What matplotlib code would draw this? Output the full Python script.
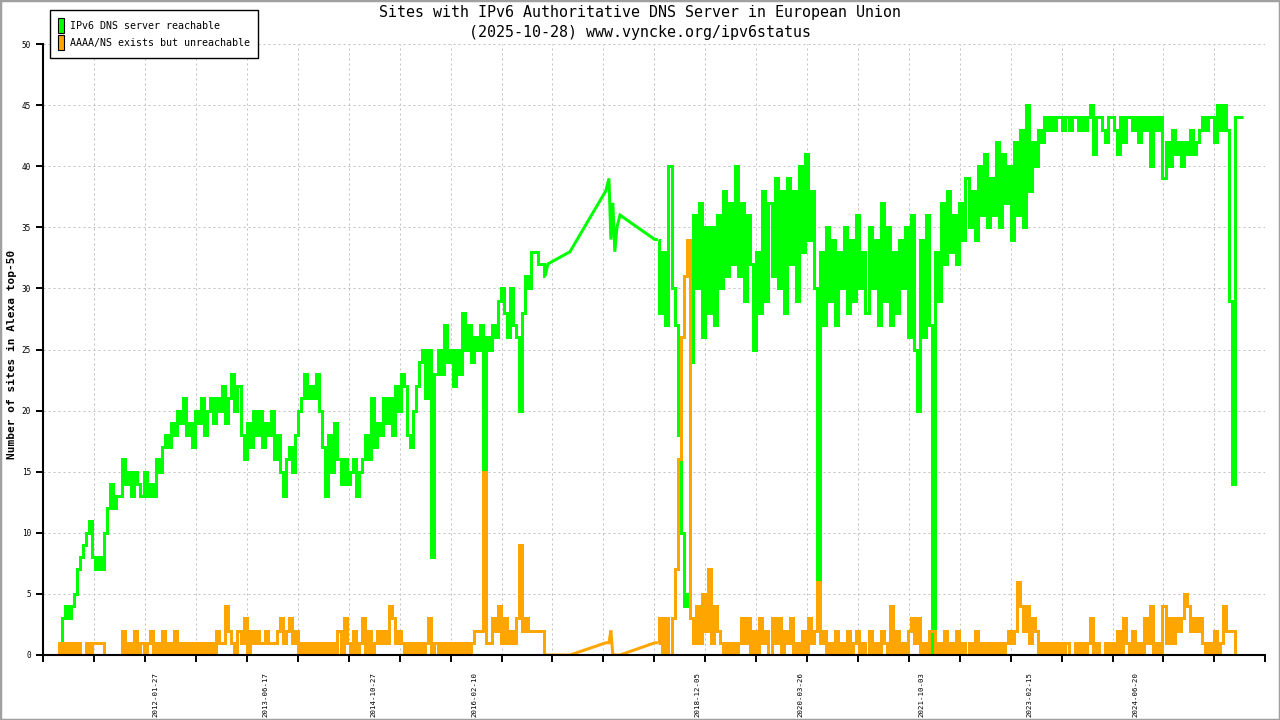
import numpy as np
import pandas as pd
import matplotlib
matplotlib.use("Agg")
import matplotlib.pyplot as plt
import matplotlib.dates as mdates
from matplotlib.patches import Patch, Rectangle

plt.rcParams['font.family'] = ['DejaVu Sans Mono']

# ---------------- data ----------------
title_line1 = "Sites with IPv6 Authoritative DNS Server in European Union"
title_line2 = "(2025-10-28) www.vyncke.org/ipv6status"
y_label = "Number of sites in Alexa top-50"
series_names = ["IPv6 DNS server reachable", "AAAA/NS exists but unreachable"]
series_colors = ["#00ff00", "#ffa500"]

# first period: samples every 14 days from 2010-09-17
seg1_start = "2010-09-17"
seg1_reachable = [
    0, 0, 0, 0, 1, 3, 4, 3, 4, 5,
    7, 8, 9, 10, 11, 8, 7, 8, 7, 10,
    12, 14, 12, 13, 13, 16, 14, 15, 13, 15,
    14, 13, 15, 13, 14, 13, 16, 15, 17, 18,
    17, 19, 18, 20, 19, 21, 18, 19, 17, 20,
    19, 21, 18, 20, 21, 19, 21, 20, 22, 19,
    21, 23, 20, 22, 18, 16, 19, 17, 20, 18,
    20, 17, 19, 18, 20, 16, 18, 15, 13, 16,
    17, 15, 18, 20, 21, 23, 21, 22, 21, 23,
    20, 17, 13, 18, 15, 19, 16, 14, 16, 14,
    15, 16, 13, 15, 16, 18, 16, 21, 17, 19,
    18, 21, 19, 21, 18, 22, 20, 23, 22, 18,
    17, 20, 22, 24, 25, 21, 25, 8, 23, 25,
    23, 27, 24, 25, 22, 25, 23, 28, 25, 27,
    24, 26, 25, 27, 15, 26, 25, 27, 26, 29,
    30, 28, 26, 30, 27, 26, 20, 28, 31, 30,
    33, 33, 32, 32, 31,
]
seg1_unreachable = [
    0, 0, 0, 0, 1, 0, 1, 0, 1, 0,
    1, 0, 0, 1, 0, 1, 1, 1, 1, 0,
    0, 0, 0, 0, 0, 2, 0, 1, 0, 2,
    0, 1, 0, 1, 2, 0, 1, 0, 2, 0,
    1, 0, 2, 0, 1, 0, 1, 0, 1, 0,
    1, 0, 1, 0, 1, 0, 2, 1, 1, 4,
    2, 1, 0, 2, 1, 3, 0, 2, 1, 2,
    1, 1, 2, 1, 1, 1, 2, 3, 1, 2,
    3, 1, 2, 0, 1, 0, 1, 0, 1, 0,
    1, 0, 1, 0, 1, 0, 2, 0, 3, 1,
    0, 2, 0, 1, 3, 0, 2, 0, 1, 2,
    1, 2, 1, 4, 3, 1, 2, 1, 0, 1,
    0, 1, 0, 1, 0, 1, 3, 0, 1, 0,
    1, 0, 1, 0, 1, 0, 1, 0, 1, 0,
    1, 2, 2, 2, 15, 1, 1, 3, 2, 4,
    1, 3, 1, 2, 1, 3, 9, 2, 3, 2,
    2, 2, 2, 2, 0,
]

# sparse period (few measurements)
gap_dates = ["2017-01-12", "2017-04-24", "2017-10-07", "2017-10-21", "2017-10-30",
             "2017-11-08", "2017-11-17", "2017-11-27", "2017-12-11", "2018-05-21"]
gap_reachable = [32, 33, 38, 39, 34, 37, 33, 35, 36, 34]
gap_unreachable = [0, 0, 1, 1, 2, 0, 0, 0, 0, 1]

# second period: samples every 14 days from 2018-06-04
seg2_start = "2018-06-04"
seg2_reachable = [
    34, 28, 33, 27, 40, 30, 27, 18, 10, 4,
    5, 24, 36, 30, 37, 26, 35, 28, 35, 27,
    36, 30, 38, 31, 37, 32, 40, 31, 37, 29,
    36, 32, 25, 33, 28, 38, 29, 37, 31, 39,
    30, 38, 28, 39, 32, 38, 29, 40, 33, 41,
    34, 38, 30, 3, 33, 27, 35, 29, 34, 27,
    33, 30, 35, 28, 34, 29, 36, 30, 33, 28,
    35, 30, 34, 27, 37, 29, 35, 27, 33, 28,
    34, 30, 35, 26, 36, 25, 20, 34, 26, 36,
    27, 0, 33, 29, 37, 32, 38, 33, 36, 32,
    37, 34, 39, 35, 38, 34, 40, 36, 41, 35,
    39, 36, 42, 35, 41, 37, 40, 34, 42, 36,
    43, 35, 45, 38, 42, 40, 43, 42, 44, 43,
    44, 43, 44, 44, 43, 44, 43, 44, 44, 43,
    44, 43, 44, 45, 41, 44, 44, 43, 42, 44,
    44, 43, 41, 44, 42, 44, 44, 43, 44, 42,
    44, 43, 44, 40, 44, 43, 44, 39, 42, 40,
    43, 41, 42, 40, 42, 41, 43, 41, 42, 43,
    44, 43, 44, 44, 42, 45, 43, 45, 43, 29,
    14, 44, 44, 44,
]
seg2_unreachable = [
    1, 3, 0, 3, 0, 3, 7, 16, 26, 31,
    34, 3, 1, 4, 1, 5, 2, 7, 1, 4,
    2, 1, 0, 1, 0, 1, 0, 1, 3, 1,
    3, 0, 2, 0, 3, 1, 2, 0, 3, 1,
    3, 0, 2, 1, 3, 0, 1, 0, 2, 0,
    3, 1, 2, 6, 1, 2, 0, 1, 0, 2,
    0, 1, 0, 2, 0, 1, 2, 0, 1, 0,
    2, 0, 1, 0, 2, 1, 0, 4, 0, 2,
    0, 1, 0, 2, 3, 1, 3, 0, 1, 0,
    2, 2, 0, 1, 0, 2, 0, 1, 0, 2,
    0, 1, 0, 1, 0, 2, 0, 1, 0, 1,
    0, 1, 0, 1, 0, 1, 2, 1, 2, 6,
    4, 2, 4, 1, 3, 2, 0, 1, 0, 1,
    0, 1, 0, 1, 0, 1, 0, 0, 1, 0,
    1, 0, 1, 3, 0, 1, 0, 0, 1, 0,
    1, 0, 2, 0, 3, 1, 0, 2, 0, 1,
    0, 3, 1, 4, 0, 1, 0, 4, 1, 3,
    1, 3, 2, 3, 5, 4, 2, 3, 2, 3,
    1, 0, 1, 0, 2, 0, 1, 4, 2, 2,
    2, 0, 0, 0,
]

x_label_dates = ["2012-01-27", "2013-06-17", "2014-10-27", "2016-02-10", "2018-12-05",
                 "2020-03-26", "2021-10-03", "2023-02-15", "2024-06-20"]
y_ticks = [0, 5, 10, 15, 20, 25, 30, 35, 40, 45, 50]

# ---------------- build series ----------------
d1 = pd.date_range(seg1_start, periods=len(seg1_reachable), freq="14D")
d2 = pd.to_datetime(gap_dates)
d3 = pd.date_range(seg2_start, periods=len(seg2_reachable), freq="14D")

# ---------------- figure ----------------
W, H = 1280, 720
fig = plt.figure(figsize=(W / 100, H / 100), dpi=100)
fig.patch.set_facecolor("white")
ax = fig.add_axes([43.3 / W, 65 / H, 1222 / W, 611 / H])

lw = 3 * 72 / 100


def draw(seg1, gap, seg2, color, z):
    kw = dict(color=color, lw=lw, solid_joinstyle="miter", solid_capstyle="butt", zorder=z)
    ax.plot(d1, seg1, drawstyle="steps-mid", **kw)
    gx = d1[-1:].append(d2).append(d3[:1])
    gy = [seg1[-1]] + gap + [seg2[0]]
    ax.plot(gx, gy, **kw)
    ax.plot(d3, seg2, drawstyle="steps-mid", **kw)


draw(seg1_reachable, gap_reachable, seg2_reachable, series_colors[0], 3)
draw(seg1_unreachable, gap_unreachable, seg2_unreachable, series_colors[1], 4)

xmin = mdates.date2num(pd.Timestamp("2010-08-26"))
xmax = mdates.date2num(pd.Timestamp("2026-02-08"))
ax.set_xlim(xmin, xmax)
ax.set_ylim(0, 50)

# evenly spaced grid ticks
ax.set_xticks(np.linspace(xmin, xmax, 25))
ax.set_xticklabels([])
ax.set_xticks(mdates.date2num(pd.to_datetime(x_label_dates)), minor=True)
ax.set_xticklabels(x_label_dates, minor=True, rotation=90, fontsize=5.3, va="top", ha="center")
ax.tick_params(axis="x", which="major", direction="out", length=5, width=1.4, color="black")
ax.tick_params(axis="x", which="minor", length=0, pad=12)

ax.set_yticks(y_ticks)
ax.set_yticklabels([str(v) for v in y_ticks], fontsize=5.6)
ax.tick_params(axis="y", direction="out", length=5, width=1.4, pad=4)

ax.grid(True, which="major", color="#c0c0c0", lw=0.72, ls=(0, (2, 3)))
ax.set_axisbelow(True)
for s in ("top", "right"):
    ax.spines[s].set_visible(False)
for s in ("left", "bottom"):
    ax.spines[s].set_linewidth(1.5)
    ax.spines[s].set_zorder(5)

fig.text(640 / W, 1 - 13 / H, title_line1, ha="center", va="center", fontsize=10.8)
fig.text(640 / W, 1 - 32 / H, title_line2, ha="center", va="center", fontsize=10.8)
fig.text(12 / W, 1 - 354 / H, y_label, rotation=90, ha="center", va="center",
         fontsize=8, fontweight="bold")

handles = [Patch(facecolor=series_colors[0], edgecolor="black", lw=0.8),
           Patch(facecolor=series_colors[1], edgecolor="black", lw=0.8)]
leg = ax.legend(handles, series_names, loc="upper left",
                bbox_to_anchor=(50 / W, 1 - 10 / H), bbox_transform=fig.transFigure,
                borderaxespad=0, fancybox=False, edgecolor="black", framealpha=1,
                fontsize=7.2, handlelength=0.6, handleheight=1.9, handletextpad=0.6,
                labelspacing=0.25, borderpad=0.8)
leg.get_frame().set_linewidth(1.0)
leg.set_zorder(10)

fig.add_artist(Rectangle((0, 0), 1, 1, transform=fig.transFigure, fill=False,
                         edgecolor="#a0a0a0", lw=2.5))

fig.savefig("out.png", dpi=100)
